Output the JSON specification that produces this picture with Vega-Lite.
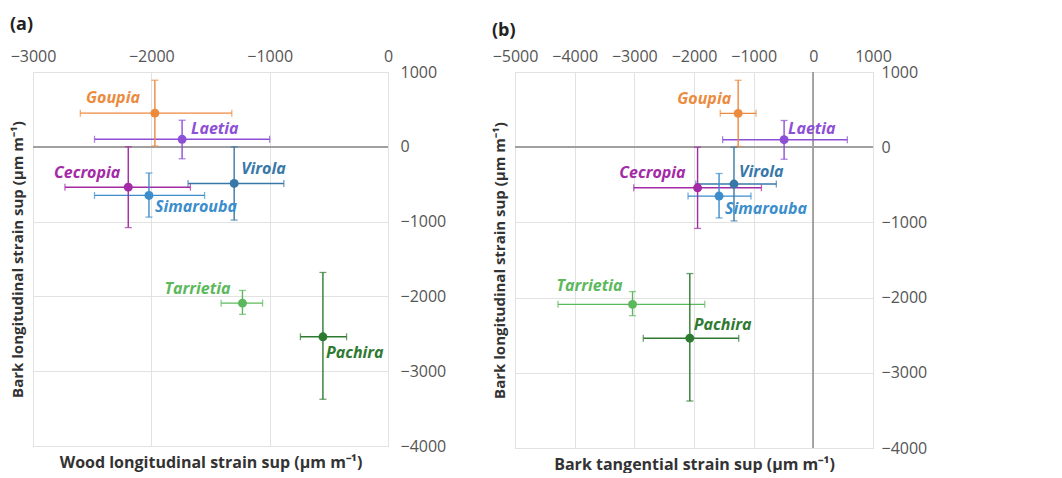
{
  "$schema": "https://vega.github.io/schema/vega-lite/v6.json",
  "background": "white",
  "padding": {"left": 9, "top": 15, "right": 5, "bottom": 0},
  "spacing": 44,
  "datasets": {
    "a": [
      {"species": "Goupia", "x": -1970, "xlo": -2600, "xhi": -1320, "y": 450, "ylo": 10, "yhi": 890},
      {"species": "Laetia", "x": -1740, "xlo": -2480, "xhi": -1000, "y": 100, "ylo": -160, "yhi": 355},
      {"species": "Cecropia", "x": -2195, "xlo": -2730, "xhi": -1670, "y": -540, "ylo": -1080, "yhi": 0},
      {"species": "Simarouba", "x": -2020, "xlo": -2480, "xhi": -1550, "y": -650, "ylo": -940, "yhi": -350},
      {"species": "Virola", "x": -1300, "xlo": -1690, "xhi": -880, "y": -490, "ylo": -980, "yhi": 0},
      {"species": "Tarrietia", "x": -1230, "xlo": -1410, "xhi": -1060, "y": -2090, "ylo": -2240, "yhi": -1920},
      {"species": "Pachira", "x": -550, "xlo": -740, "xhi": -350, "y": -2540, "ylo": -3375, "yhi": -1680}
    ],
    "b": [
      {"species": "Goupia", "x": -1260, "xlo": -1560, "xhi": -960, "y": 450, "ylo": 10, "yhi": 890},
      {"species": "Laetia", "x": -490, "xlo": -1520, "xhi": 570, "y": 100, "ylo": -160, "yhi": 355},
      {"species": "Cecropia", "x": -1940, "xlo": -3010, "xhi": -870, "y": -540, "ylo": -1080, "yhi": 0},
      {"species": "Simarouba", "x": -1580, "xlo": -2100, "xhi": -1045, "y": -650, "ylo": -940, "yhi": -350},
      {"species": "Virola", "x": -1330, "xlo": -1970, "xhi": -620, "y": -490, "ylo": -980, "yhi": 0},
      {"species": "Tarrietia", "x": -3030, "xlo": -4280, "xhi": -1820, "y": -2090, "ylo": -2240, "yhi": -1920},
      {"species": "Pachira", "x": -2070, "xlo": -2850, "xhi": -1250, "y": -2540, "ylo": -3375, "yhi": -1680}
    ]
  },
  "hconcat": [
    {
      "width": 355, "height": 374,
      "title": {"text": "(a)", "anchor": "start", "frame": "bounds", "fontSize": 18, "font": "Open Sans", "fontWeight": "bold", "color": "#222", "offset": 14},
      "data": {"name": "a"},
      "resolve": {"axis": {"x": "independent", "y": "independent"}},
      "layer": [
        {"mark": {"type": "rule", "color": "#a0a0a0", "strokeWidth": 1.2},
         "encoding": {"y": {"datum": 0, "type": "quantitative", "axis": null}}},
        {"mark": {"type": "rule", "strokeWidth": 1.4},
         "encoding": {
           "x": {"field": "xlo", "type": "quantitative", "scale": {"domain": [-3000, 0], "nice": false, "zero": false},
                 "axis": {"orient": "top", "title": null, "values": [-3000, -2000, -1000, 0], "format": "d", "grid": true, "gridColor": "#e2e2e2", "ticks": false, "domain": false, "labelFlush": false, "labelOverlap": false, "labelPadding": 8, "labelFontSize": 16, "labelColor": "#555", "labelFont": "Open Sans"}},
           "x2": {"field": "xhi"},
           "y": {"field": "y", "type": "quantitative", "scale": {"domain": [-4000, 1000], "nice": false, "zero": false},
                 "axis": {"orient": "right", "title": null, "values": [1000, 0, -1000, -2000, -3000, -4000], "format": "d", "grid": true, "gridColor": "#e2e2e2", "ticks": false, "domain": false, "labelFlush": false, "labelOverlap": false, "labelPadding": 12, "labelFontSize": 16, "labelColor": "#555", "labelFont": "Open Sans"}},
           "color": {"field": "species", "type": "nominal", "legend": null,
                     "scale": {"domain": ["Goupia", "Laetia", "Cecropia", "Virola", "Simarouba", "Tarrietia", "Pachira"], "range": ["#ec8a3e", "#8d4fd6", "#a42aa6", "#3878a8", "#3b8dcc", "#5cb85c", "#2e7a30"]}}
         }},
        {"mark": {"type": "rule", "strokeWidth": 1.4},
         "encoding": {
           "x": {"field": "x", "type": "quantitative",
                 "axis": {"orient": "bottom", "title": "Wood longitudinal strain sup (µm m⁻¹)", "labels": false, "ticks": false, "domain": false, "grid": false, "titlePadding": 8, "titleFontSize": 16, "titleFont": "Open Sans", "titleFontWeight": "bold", "titleColor": "#333"}},
           "y": {"field": "ylo", "type": "quantitative",
                 "axis": {"orient": "left", "title": "Bark longitudinal strain sup (µm m⁻¹)", "labels": false, "ticks": false, "domain": false, "grid": false, "titlePadding": 8, "titleFontSize": 15, "titleFont": "Open Sans", "titleFontWeight": "bold", "titleColor": "#333"}},
           "y2": {"field": "yhi"},
           "color": {"field": "species", "type": "nominal", "legend": null}
         }},
        {"mark": {"type": "tick", "orient": "vertical", "size": 7, "thickness": 1.3},
         "encoding": {"x": {"field": "xlo", "type": "quantitative", "axis": null}, "y": {"field": "y", "type": "quantitative", "axis": null}, "color": {"field": "species", "type": "nominal", "legend": null}}},
        {"mark": {"type": "tick", "orient": "vertical", "size": 7, "thickness": 1.3},
         "encoding": {"x": {"field": "xhi", "type": "quantitative", "axis": null}, "y": {"field": "y", "type": "quantitative", "axis": null}, "color": {"field": "species", "type": "nominal", "legend": null}}},
        {"mark": {"type": "tick", "orient": "horizontal", "size": 7, "thickness": 1.3},
         "encoding": {"x": {"field": "x", "type": "quantitative", "axis": null}, "y": {"field": "ylo", "type": "quantitative", "axis": null}, "color": {"field": "species", "type": "nominal", "legend": null}}},
        {"mark": {"type": "tick", "orient": "horizontal", "size": 7, "thickness": 1.3},
         "encoding": {"x": {"field": "x", "type": "quantitative", "axis": null}, "y": {"field": "yhi", "type": "quantitative", "axis": null}, "color": {"field": "species", "type": "nominal", "legend": null}}},
        {"mark": {"type": "circle", "size": 80, "opacity": 1},
         "encoding": {"x": {"field": "x", "type": "quantitative", "axis": null}, "y": {"field": "y", "type": "quantitative", "axis": null}, "color": {"field": "species", "type": "nominal", "legend": null}}},
        {"transform": [{"filter": "datum.species === 'Goupia'"}],
         "mark": {"type": "text", "align": "right", "baseline": "middle", "dx": -15, "dy": -15, "font": "Open Sans", "fontSize": 16, "fontWeight": "bold", "fontStyle": "italic"},
         "encoding": {"x": {"field": "x", "type": "quantitative", "axis": null}, "y": {"field": "y", "type": "quantitative", "axis": null}, "text": {"field": "species"}, "color": {"field": "species", "type": "nominal", "legend": null}}},
        {"transform": [{"filter": "datum.species === 'Laetia'"}],
         "mark": {"type": "text", "align": "left", "baseline": "middle", "dx": 9, "dy": -10, "font": "Open Sans", "fontSize": 16, "fontWeight": "bold", "fontStyle": "italic"},
         "encoding": {"x": {"field": "x", "type": "quantitative", "axis": null}, "y": {"field": "y", "type": "quantitative", "axis": null}, "text": {"field": "species"}, "color": {"field": "species", "type": "nominal", "legend": null}}},
        {"transform": [{"filter": "datum.species === 'Cecropia'"}],
         "mark": {"type": "text", "align": "right", "baseline": "middle", "dx": -8, "dy": -14, "font": "Open Sans", "fontSize": 16, "fontWeight": "bold", "fontStyle": "italic"},
         "encoding": {"x": {"field": "x", "type": "quantitative", "axis": null}, "y": {"field": "y", "type": "quantitative", "axis": null}, "text": {"field": "species"}, "color": {"field": "species", "type": "nominal", "legend": null}}},
        {"transform": [{"filter": "datum.species === 'Simarouba'"}],
         "mark": {"type": "text", "align": "left", "baseline": "middle", "dx": 6, "dy": 12, "font": "Open Sans", "fontSize": 16, "fontWeight": "bold", "fontStyle": "italic"},
         "encoding": {"x": {"field": "x", "type": "quantitative", "axis": null}, "y": {"field": "y", "type": "quantitative", "axis": null}, "text": {"field": "species"}, "color": {"field": "species", "type": "nominal", "legend": null}}},
        {"transform": [{"filter": "datum.species === 'Virola'"}],
         "mark": {"type": "text", "align": "left", "baseline": "middle", "dx": 7, "dy": -14, "font": "Open Sans", "fontSize": 16, "fontWeight": "bold", "fontStyle": "italic"},
         "encoding": {"x": {"field": "x", "type": "quantitative", "axis": null}, "y": {"field": "y", "type": "quantitative", "axis": null}, "text": {"field": "species"}, "color": {"field": "species", "type": "nominal", "legend": null}}},
        {"transform": [{"filter": "datum.species === 'Tarrietia'"}],
         "mark": {"type": "text", "align": "right", "baseline": "middle", "dx": -12, "dy": -14, "font": "Open Sans", "fontSize": 16, "fontWeight": "bold", "fontStyle": "italic"},
         "encoding": {"x": {"field": "x", "type": "quantitative", "axis": null}, "y": {"field": "y", "type": "quantitative", "axis": null}, "text": {"field": "species"}, "color": {"field": "species", "type": "nominal", "legend": null}}},
        {"transform": [{"filter": "datum.species === 'Pachira'"}],
         "mark": {"type": "text", "align": "left", "baseline": "middle", "dx": 3, "dy": 16, "font": "Open Sans", "fontSize": 16, "fontWeight": "bold", "fontStyle": "italic"},
         "encoding": {"x": {"field": "x", "type": "quantitative", "axis": null}, "y": {"field": "y", "type": "quantitative", "axis": null}, "text": {"field": "species"}, "color": {"field": "species", "type": "nominal", "legend": null}}}
      ]
    },
    {
      "width": 358, "height": 376,
      "title": {"text": "(b)", "anchor": "start", "frame": "bounds", "fontSize": 18, "font": "Open Sans", "fontWeight": "bold", "color": "#222", "offset": 8},
      "data": {"name": "b"},
      "resolve": {"axis": {"x": "independent", "y": "independent"}},
      "layer": [
        {"mark": {"type": "rule", "color": "#a0a0a0", "strokeWidth": 1.2},
         "encoding": {"y": {"datum": 0, "type": "quantitative", "axis": null}}},
        {"mark": {"type": "rule", "color": "#a0a0a0", "strokeWidth": 1.2},
         "encoding": {"x": {"datum": 0, "type": "quantitative", "axis": null}}},
        {"mark": {"type": "rule", "strokeWidth": 1.4},
         "encoding": {
           "x": {"field": "xlo", "type": "quantitative", "scale": {"domain": [-5000, 1000], "nice": false, "zero": false},
                 "axis": {"orient": "top", "title": null, "values": [-5000, -4000, -3000, -2000, -1000, 0, 1000], "format": "d", "grid": true, "gridColor": "#e2e2e2", "ticks": false, "domain": false, "labelFlush": false, "labelOverlap": false, "labelPadding": 8, "labelFontSize": 16, "labelColor": "#555", "labelFont": "Open Sans"}},
           "x2": {"field": "xhi"},
           "y": {"field": "y", "type": "quantitative", "scale": {"domain": [-4000, 1000], "nice": false, "zero": false},
                 "axis": {"orient": "right", "title": null, "values": [1000, 0, -1000, -2000, -3000, -4000], "format": "d", "grid": true, "gridColor": "#e2e2e2", "ticks": false, "domain": false, "labelFlush": false, "labelOverlap": false, "labelPadding": 8, "labelFontSize": 16, "labelColor": "#555", "labelFont": "Open Sans"}},
           "color": {"field": "species", "type": "nominal", "legend": null}
         }},
        {"mark": {"type": "rule", "strokeWidth": 1.4},
         "encoding": {
           "x": {"field": "x", "type": "quantitative",
                 "axis": {"orient": "bottom", "title": "Bark tangential strain sup (µm m⁻¹)", "labels": false, "ticks": false, "domain": false, "grid": false, "titlePadding": 8, "titleFontSize": 16, "titleFont": "Open Sans", "titleFontWeight": "bold", "titleColor": "#333"}},
           "y": {"field": "ylo", "type": "quantitative",
                 "axis": {"orient": "left", "title": "Bark longitudinal strain sup (µm m⁻¹)", "labels": false, "ticks": false, "domain": false, "grid": false, "titlePadding": 8, "titleFontSize": 15, "titleFont": "Open Sans", "titleFontWeight": "bold", "titleColor": "#333"}},
           "y2": {"field": "yhi"},
           "color": {"field": "species", "type": "nominal", "legend": null}
         }},
        {"mark": {"type": "tick", "orient": "vertical", "size": 7, "thickness": 1.3},
         "encoding": {"x": {"field": "xlo", "type": "quantitative", "axis": null}, "y": {"field": "y", "type": "quantitative", "axis": null}, "color": {"field": "species", "type": "nominal", "legend": null}}},
        {"mark": {"type": "tick", "orient": "vertical", "size": 7, "thickness": 1.3},
         "encoding": {"x": {"field": "xhi", "type": "quantitative", "axis": null}, "y": {"field": "y", "type": "quantitative", "axis": null}, "color": {"field": "species", "type": "nominal", "legend": null}}},
        {"mark": {"type": "tick", "orient": "horizontal", "size": 7, "thickness": 1.3},
         "encoding": {"x": {"field": "x", "type": "quantitative", "axis": null}, "y": {"field": "ylo", "type": "quantitative", "axis": null}, "color": {"field": "species", "type": "nominal", "legend": null}}},
        {"mark": {"type": "tick", "orient": "horizontal", "size": 7, "thickness": 1.3},
         "encoding": {"x": {"field": "x", "type": "quantitative", "axis": null}, "y": {"field": "yhi", "type": "quantitative", "axis": null}, "color": {"field": "species", "type": "nominal", "legend": null}}},
        {"mark": {"type": "circle", "size": 80, "opacity": 1},
         "encoding": {"x": {"field": "x", "type": "quantitative", "axis": null}, "y": {"field": "y", "type": "quantitative", "axis": null}, "color": {"field": "species", "type": "nominal", "legend": null}}},
        {"transform": [{"filter": "datum.species === 'Goupia'"}],
         "mark": {"type": "text", "align": "right", "baseline": "middle", "dx": -7, "dy": -14, "font": "Open Sans", "fontSize": 16, "fontWeight": "bold", "fontStyle": "italic"},
         "encoding": {"x": {"field": "x", "type": "quantitative", "axis": null}, "y": {"field": "y", "type": "quantitative", "axis": null}, "text": {"field": "species"}, "color": {"field": "species", "type": "nominal", "legend": null}}},
        {"transform": [{"filter": "datum.species === 'Laetia'"}],
         "mark": {"type": "text", "align": "left", "baseline": "middle", "dx": 4, "dy": -11, "font": "Open Sans", "fontSize": 16, "fontWeight": "bold", "fontStyle": "italic"},
         "encoding": {"x": {"field": "x", "type": "quantitative", "axis": null}, "y": {"field": "y", "type": "quantitative", "axis": null}, "text": {"field": "species"}, "color": {"field": "species", "type": "nominal", "legend": null}}},
        {"transform": [{"filter": "datum.species === 'Cecropia'"}],
         "mark": {"type": "text", "align": "right", "baseline": "middle", "dx": -12, "dy": -15, "font": "Open Sans", "fontSize": 16, "fontWeight": "bold", "fontStyle": "italic"},
         "encoding": {"x": {"field": "x", "type": "quantitative", "axis": null}, "y": {"field": "y", "type": "quantitative", "axis": null}, "text": {"field": "species"}, "color": {"field": "species", "type": "nominal", "legend": null}}},
        {"transform": [{"filter": "datum.species === 'Simarouba'"}],
         "mark": {"type": "text", "align": "left", "baseline": "middle", "dx": 6, "dy": 13, "font": "Open Sans", "fontSize": 16, "fontWeight": "bold", "fontStyle": "italic"},
         "encoding": {"x": {"field": "x", "type": "quantitative", "axis": null}, "y": {"field": "y", "type": "quantitative", "axis": null}, "text": {"field": "species"}, "color": {"field": "species", "type": "nominal", "legend": null}}},
        {"transform": [{"filter": "datum.species === 'Virola'"}],
         "mark": {"type": "text", "align": "left", "baseline": "middle", "dx": 5, "dy": -12, "font": "Open Sans", "fontSize": 16, "fontWeight": "bold", "fontStyle": "italic"},
         "encoding": {"x": {"field": "x", "type": "quantitative", "axis": null}, "y": {"field": "y", "type": "quantitative", "axis": null}, "text": {"field": "species"}, "color": {"field": "species", "type": "nominal", "legend": null}}},
        {"transform": [{"filter": "datum.species === 'Tarrietia'"}],
         "mark": {"type": "text", "align": "right", "baseline": "middle", "dx": -10, "dy": -18, "font": "Open Sans", "fontSize": 16, "fontWeight": "bold", "fontStyle": "italic"},
         "encoding": {"x": {"field": "x", "type": "quantitative", "axis": null}, "y": {"field": "y", "type": "quantitative", "axis": null}, "text": {"field": "species"}, "color": {"field": "species", "type": "nominal", "legend": null}}},
        {"transform": [{"filter": "datum.species === 'Pachira'"}],
         "mark": {"type": "text", "align": "left", "baseline": "middle", "dx": 4, "dy": -13, "font": "Open Sans", "fontSize": 16, "fontWeight": "bold", "fontStyle": "italic"},
         "encoding": {"x": {"field": "x", "type": "quantitative", "axis": null}, "y": {"field": "y", "type": "quantitative", "axis": null}, "text": {"field": "species"}, "color": {"field": "species", "type": "nominal", "legend": null}}}
      ]
    }
  ],
  "config": {
    "view": {"stroke": "#cfcfcf"},
    "font": "Open Sans"
  }
}
